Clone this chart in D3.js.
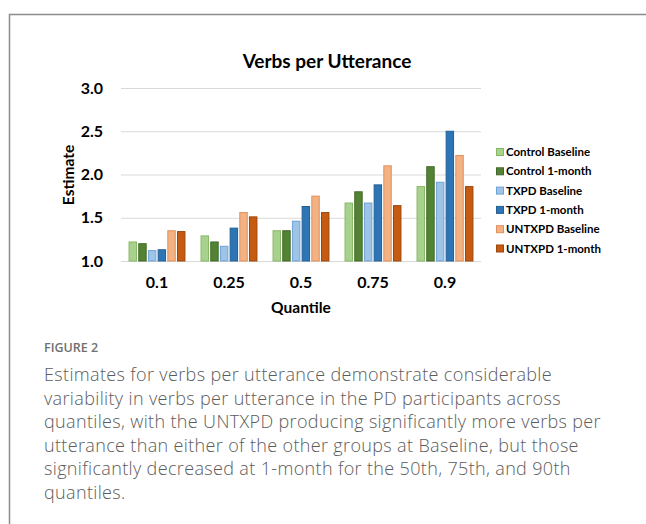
<!DOCTYPE html>
<html>
<head>
<meta charset="utf-8">
<script src="https://cdn.jsdelivr.net/npm/d3@7"></script>
<style>
  html, body { margin: 0; padding: 0; background: #fff; }
  svg { display: block; }
</style>
</head>
<body>
<svg id="chart" width="646" height="524"></svg>
<script>
const quantiles = ["0.1", "0.25", "0.5", "0.75", "0.9"];
const groups = ["Control Baseline", "Control 1-month", "TXPD Baseline", "TXPD 1-month", "UNTXPD Baseline", "UNTXPD 1-month"];
const controlBaseline = [1.22, 1.29, 1.35, 1.67, 1.86];
const control1Month = [1.20, 1.22, 1.35, 1.80, 2.09];
const txpdBaseline = [1.12, 1.17, 1.46, 1.67, 1.91];
const txpd1Month = [1.13, 1.38, 1.63, 1.88, 2.50];
const untxpdBaseline = [1.35, 1.56, 1.75, 2.10, 2.22];
const untxpd1Month = [1.34, 1.51, 1.56, 1.64, 1.86];
const yTicks = [1.0, 1.5, 2.0, 2.5, 3.0];

const captionLines = [
  "Estimates for verbs per utterance demonstrate considerable",
  "variability in verbs per utterance in the PD participants across",
  "quantiles, with the UNTXPD producing significantly more verbs per",
  "utterance than either of the other groups at Baseline, but those",
  "significantly decreased at 1-month for the 50th, 75th, and 90th",
  "quantiles."
];

const fills = ["#a9d18e", "#548235", "#9dc3e6", "#2e75b6", "#f4b183", "#c55a11"];
const strokes = ["#86b864", "#41692a", "#6fa3d6", "#245f95", "#e0905a", "#9c470d"];

const seriesValues = [controlBaseline, control1Month, txpdBaseline, txpd1Month, untxpdBaseline, untxpd1Month];
const table = quantiles.map((q, i) => ({
  q,
  values: groups.map((g, j) => ({ group: g, idx: j, value: seriesValues[j][i] }))
}));

const svg = d3.select("#chart");
const chartFont = "Lato, 'Open Sans', sans-serif";

// figure frame
svg.append("path")
  .attr("d", "M9.5,524 V14.5 H646")
  .attr("fill", "none")
  .attr("stroke", "#8c8c8c")
  .attr("stroke-width", 1.5);

const plot = { left: 121, right: 481, top: 88, bottom: 261 };

const x0 = d3.scaleBand()
  .domain(quantiles)
  .range([plot.left, plot.right])
  .paddingInner(0.21)
  .paddingOuter(0.105);

const x1 = d3.scaleBand()
  .domain(groups)
  .range([0, x0.bandwidth()])
  .paddingInner(0.13);

const y = d3.scaleLinear()
  .domain([1.0, 3.0])
  .range([plot.bottom, plot.top]);

// gridlines
const yAxis = svg.append("g")
  .attr("transform", `translate(${plot.left},0)`)
  .call(d3.axisLeft(y).tickValues(yTicks).tickSize(-(plot.right - plot.left)).tickFormat(d3.format(".1f")).tickPadding(18));
yAxis.select(".domain").remove();
yAxis.selectAll(".tick line").attr("stroke", "#d9d9d9").attr("stroke-width", 1);
yAxis.selectAll(".tick text")
  .attr("font-family", chartFont)
  .attr("font-weight", 700)
  .attr("font-size", 16)
  .attr("fill", "#000");

// bars
svg.append("g")
  .selectAll("g")
  .data(table)
  .join("g")
  .attr("transform", d => `translate(${x0(d.q)},0)`)
  .selectAll("rect")
  .data(d => d.values)
  .join("rect")
  .attr("x", d => x1(d.group) + 0.5)
  .attr("y", d => y(d.value))
  .attr("width", x1.bandwidth() - 1)
  .attr("height", d => y(1.0) - y(d.value))
  .attr("fill", d => fills[d.idx])
  .attr("stroke", d => strokes[d.idx])
  .attr("stroke-width", 1);

// x axis labels
const xAxis = svg.append("g")
  .attr("transform", `translate(0,${plot.bottom})`)
  .call(d3.axisBottom(x0).tickSize(0).tickPadding(16));
xAxis.select(".domain").remove();
xAxis.selectAll(".tick text")
  .attr("font-family", chartFont)
  .attr("font-weight", 700)
  .attr("font-size", 16)
  .attr("fill", "#000");

// title
svg.append("text")
  .attr("x", 327)
  .attr("y", 68)
  .attr("text-anchor", "middle")
  .attr("font-family", chartFont)
  .attr("font-weight", 700)
  .attr("font-size", 19)
  .text("Verbs per Utterance");

svg.append("text")
  .attr("x", 301)
  .attr("y", 313)
  .attr("text-anchor", "middle")
  .attr("font-family", chartFont)
  .attr("font-weight", 700)
  .attr("font-size", 15.5)
  .text("Quantile");

svg.append("text")
  .attr("transform", "translate(74,175) rotate(-90)")
  .attr("text-anchor", "middle")
  .attr("font-family", chartFont)
  .attr("font-weight", 700)
  .attr("font-size", 15.5)
  .text("Estimate");

// legend
const legend = svg.append("g")
  .selectAll("g")
  .data(groups)
  .join("g")
  .attr("transform", (d, i) => `translate(496,${152 + i * 19.3})`);
legend.append("rect")
  .attr("x", 0.5)
  .attr("y", -3.5)
  .attr("width", 7)
  .attr("height", 7)
  .attr("fill", (d, i) => fills[i])
  .attr("stroke", (d, i) => strokes[i])
  .attr("stroke-width", 1);
legend.append("text")
  .attr("x", 10)
  .attr("y", 4)
  .attr("font-family", chartFont)
  .attr("font-weight", 700)
  .attr("font-size", 11.5)
  .text(d => d);

// caption
svg.append("text")
  .attr("x", 44)
  .attr("y", 352)
  .attr("font-family", "'Open Sans', sans-serif")
  .attr("font-weight", 600)
  .attr("font-size", 12.5)
  .attr("fill", "#707070")
  .text("FIGURE 2");

svg.append("g")
  .selectAll("text")
  .data(captionLines)
  .join("text")
  .attr("x", 44)
  .attr("y", (d, i) => 381 + i * 23.5)
  .attr("font-family", "'Open Sans', sans-serif")
  .attr("font-weight", 300)
  .attr("font-size", 18)
  .attr("letter-spacing", 0.35)
  .attr("fill", "#5c5c5c")
  .text(d => d);
</script>
</body>
</html>
